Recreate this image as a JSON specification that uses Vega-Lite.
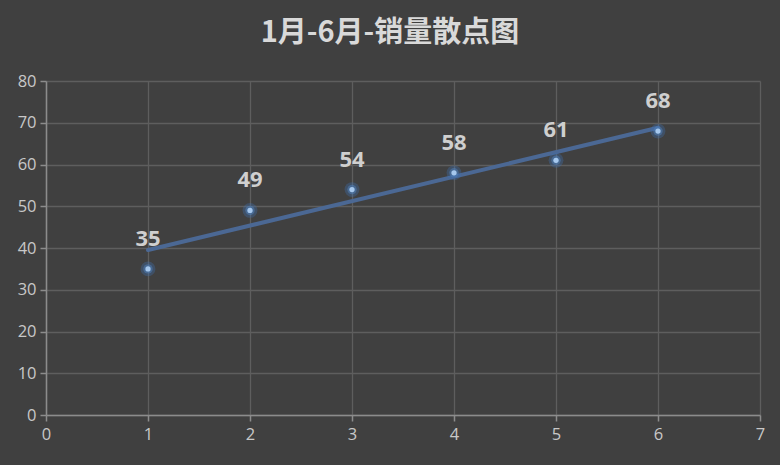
{
  "$schema": "https://vega.github.io/schema/vega-lite/v6.json",
  "autosize": {"type": "none"},
  "width": 714,
  "height": 334,
  "padding": {"left": 46, "top": 81, "right": 20, "bottom": 50},
  "background": "#404040",
  "title": {
    "text": "1月-6月-销量散点图",
    "font": "Noto Sans CJK SC",
    "fontSize": 29,
    "fontWeight": "bold",
    "color": "#d9d9d9",
    "anchor": "middle",
    "frame": "group",
    "dx": -13,
    "offset": 25
  },
  "config": {
    "view": {"stroke": null},
    "axis": {
      "labelFont": "Open Sans",
      "labelFontSize": 16.5,
      "labelColor": "#c8c8c8",
      "gridColor": "#5e5e5e",
      "gridWidth": 1.3,
      "domainColor": "#8c8c8c",
      "domainWidth": 1.5,
      "tickColor": "#8c8c8c",
      "tickWidth": 1.5,
      "tickSize": 6,
      "title": null
    }
  },
  "data": {
    "values": [
      {"month": 1, "sales": 35},
      {"month": 2, "sales": 49},
      {"month": 3, "sales": 54},
      {"month": 4, "sales": 58},
      {"month": 5, "sales": 61},
      {"month": 6, "sales": 68}
    ]
  },
  "encoding": {
    "x": {
      "field": "month", "type": "quantitative",
      "scale": {"domain": [0, 7], "nice": false},
      "axis": {"values": [0, 1, 2, 3, 4, 5, 6, 7], "labelPadding": 5, "labelFlush": false}
    },
    "y": {
      "field": "sales", "type": "quantitative",
      "scale": {"domain": [0, 80], "nice": false},
      "axis": {"values": [0, 10, 20, 30, 40, 50, 60, 70, 80], "labelPadding": 4}
    }
  },
  "layer": [
    {
      "transform": [{"regression": "sales", "on": "month"}],
      "mark": {"type": "line", "color": "#4b6894", "strokeWidth": 4, "strokeCap": "round"}
    },
    {
      "mark": {"type": "point", "filled": true, "color": "#3f6fb0", "opacity": 0.35, "size": 220}
    },
    {
      "mark": {"type": "point", "filled": true, "color": "#4f81bd", "opacity": 0.5, "size": 90}
    },
    {
      "mark": {"type": "point", "filled": true, "color": "#a6c8ee", "opacity": 1, "size": 28}
    },
    {
      "mark": {"type": "text", "font": "Open Sans", "fontSize": 22, "fontWeight": "bold", "color": "#cfcfcf", "baseline": "middle", "dy": -30},
      "encoding": {"text": {"field": "sales", "type": "quantitative"}}
    }
  ]
}
